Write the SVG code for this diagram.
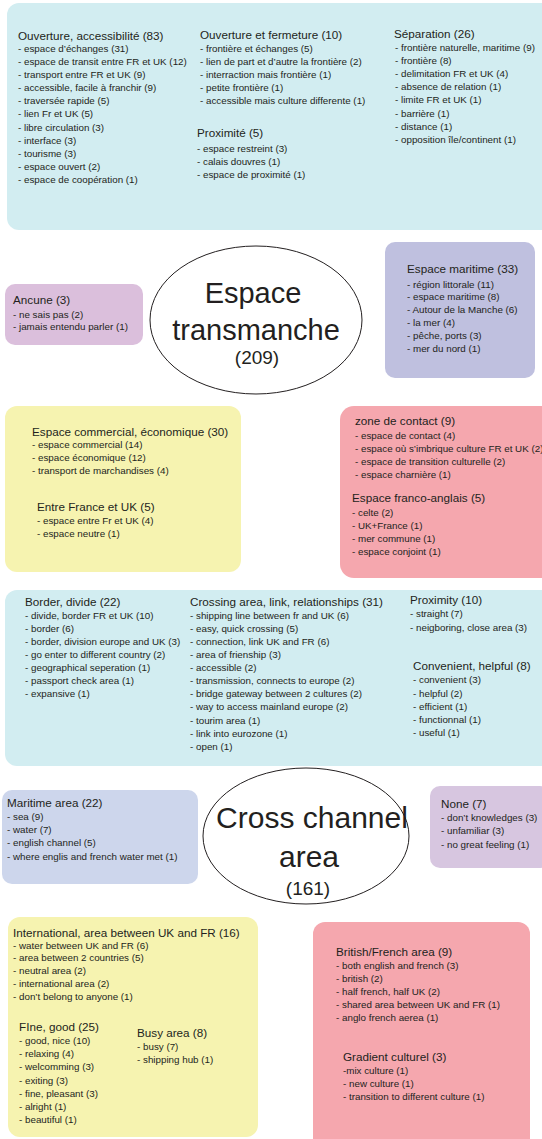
<svg xmlns="http://www.w3.org/2000/svg" width="542" height="1139" viewBox="0 0 542 1139">
<style>
text{font-family:"Liberation Sans",Arial,sans-serif;fill:#231f20}
.h{font-size:11.7px}
.i{font-size:9.8px}
.big{font-size:29px;text-anchor:middle}
.cnt{font-size:19px;text-anchor:middle}
.cyan{fill:#d2edf1}
.yel{fill:#f6f3b0}
.pink{fill:#f5a7ae}
.ell{fill:#ffffff;stroke:#231f20;stroke-width:1}
</style>
<rect width="542" height="1139" fill="#ffffff"/>

<g id="top-box">
<rect class="cyan" x="7" y="3" width="550" height="227" rx="12"/>
<text class="h" x="18" y="40">Ouverture, accessibilité  (83)</text>
<text class="i"><tspan x="18" y="52">- espace d’échanges (31)</tspan><tspan x="18" y="65">- espace de transit entre FR et UK (12)</tspan><tspan x="18" y="78">- transport entre FR et UK (9)</tspan><tspan x="18" y="91">- accessible, facile à franchir (9)</tspan><tspan x="18" y="104">- traversée rapide (5)</tspan><tspan x="18" y="117">- lien Fr et UK (5)</tspan><tspan x="18" y="131">- libre circulation (3)</tspan><tspan x="18" y="144">- interface (3)</tspan><tspan x="18" y="157">- tourisme (3)</tspan><tspan x="18" y="170">- espace ouvert (2)</tspan><tspan x="18" y="183">- espace de coopération (1)</tspan></text>
<text class="h" x="200" y="39">Ouverture et fermeture (10)</text>
<text class="i"><tspan x="200" y="52">- frontière et échanges (5)</tspan><tspan x="200" y="65">- lien de part  et d’autre la frontière (2)</tspan><tspan x="200" y="78">- interraction mais frontière (1)</tspan><tspan x="200" y="91">- petite frontière (1)</tspan><tspan x="200" y="104">- accessible mais culture differente (1)</tspan></text>
<text class="h" x="197" y="137">Proximité (5)</text>
<text class="i"><tspan x="197" y="152">- espace restreint (3)</tspan><tspan x="197" y="165">- calais douvres (1)</tspan><tspan x="197" y="178">- espace de proximité (1)</tspan></text>
<text class="h" x="394" y="38">Séparation (26)</text>
<text class="i"><tspan x="395" y="51">- frontière naturelle, maritime (9)</tspan><tspan x="395" y="64">- frontière (8)</tspan><tspan x="395" y="77">- delimitation FR et UK (4)</tspan><tspan x="395" y="90">- absence de relation (1)</tspan><tspan x="395" y="103">- limite FR et UK (1)</tspan><tspan x="395" y="117">- barrière (1)</tspan><tspan x="395" y="130">- distance (1)</tspan><tspan x="395" y="143">- opposition île/continent (1)</tspan></text>
</g>

<g id="ancune">
<rect x="5" y="284" width="138" height="61" rx="10" fill="#dbbfdc"/>
<text class="h" x="13" y="304">Ancune (3)</text>
<text class="i"><tspan x="13" y="318">- ne sais pas (2)</tspan><tspan x="13" y="330">- jamais entendu parler (1)</tspan></text>
</g>

<g id="espace-transmanche">
<ellipse class="ell" cx="256" cy="320" rx="106" ry="74"/>
<text class="big" x="253" y="303">Espace</text>
<text class="big" x="256" y="340">transmanche</text>
<text class="cnt" x="257" y="364">(209)</text>
</g>

<g id="espace-maritime">
<rect x="385" y="242" width="150" height="136" rx="10" fill="#bfc0df"/>
<text class="h" x="407" y="273">Espace maritime (33)</text>
<text class="i"><tspan x="407" y="288">- région littorale (11)</tspan><tspan x="407" y="300">- espace maritime (8)</tspan><tspan x="407" y="313">- Autour de la Manche (6)</tspan><tspan x="407" y="326">- la mer (4)</tspan><tspan x="407" y="339">- pêche, ports (3)</tspan><tspan x="407" y="352">- mer du nord (1)</tspan></text>
</g>

<g id="espace-commercial">
<rect class="yel" x="5" y="406" width="236" height="166" rx="12"/>
<text class="h" x="32" y="436">Espace commercial, économique (30)</text>
<text class="i"><tspan x="32" y="448">- espace commercial (14)</tspan><tspan x="32" y="461">- espace économique (12)</tspan><tspan x="32" y="474">- transport de marchandises (4)</tspan></text>
<text class="h" x="37" y="511">Entre France et UK (5)</text>
<text class="i"><tspan x="37" y="524">- espace entre Fr et UK (4)</tspan><tspan x="37" y="537">- espace neutre (1)</tspan></text>
</g>

<g id="zone-contact">
<rect class="pink" x="340" y="406" width="215" height="172" rx="14"/>
<text class="h" x="355" y="425">zone de contact (9)</text>
<text class="i"><tspan x="355" y="439">- espace de contact (4)</tspan><tspan x="355" y="452">- espace où s’imbrique culture FR et UK (2)</tspan><tspan x="355" y="465">- espace de transition culturelle (2)</tspan><tspan x="355" y="478">- espace charnière (1)</tspan></text>
<text class="h" x="352" y="502">Espace franco-anglais (5)</text>
<text class="i"><tspan x="352" y="516">- celte (2)</tspan><tspan x="352" y="529">- UK+France (1)</tspan><tspan x="352" y="542">- mer commune (1)</tspan><tspan x="352" y="555">- espace conjoint (1)</tspan></text>
</g>

<g id="cross-box">
<rect class="cyan" x="5" y="590" width="550" height="176" rx="12"/>
<text class="h" x="25" y="606">Border, divide (22)</text>
<text class="i"><tspan x="25" y="619">- divide, border FR et UK (10)</tspan><tspan x="25" y="632">- border (6)</tspan><tspan x="25" y="645">- border, division europe and UK (3)</tspan><tspan x="25" y="658">- go enter to different country (2)</tspan><tspan x="25" y="671">- geographical seperation (1)</tspan><tspan x="25" y="684">- passport check area (1)</tspan><tspan x="25" y="697">- expansive (1)</tspan></text>
<text class="h" x="190" y="606">Crossing area, link, relationships (31)</text>
<text class="i"><tspan x="190" y="619">- shipping line between fr and UK (6)</tspan><tspan x="190" y="632">- easy, quick crossing (5)</tspan><tspan x="190" y="645">- connection, link  UK and FR (6)</tspan><tspan x="190" y="658">- area of frienship (3)</tspan><tspan x="190" y="671">- accessible (2)</tspan><tspan x="190" y="684">- transmission, connects to europe (2)</tspan><tspan x="190" y="697">- bridge gateway between 2 cultures (2)</tspan><tspan x="190" y="710">- way to access mainland europe (2)</tspan><tspan x="190" y="724">- tourim area (1)</tspan><tspan x="190" y="737">- link into eurozone (1)</tspan><tspan x="190" y="750">- open (1)</tspan></text>
<text class="h" x="410" y="604">Proximity (10)</text>
<text class="i"><tspan x="410" y="617">- straight (7)</tspan><tspan x="410" y="631">- neigboring, close area (3)</tspan></text>
<text class="h" x="413" y="670">Convenient, helpful (8)</text>
<text class="i"><tspan x="413" y="683">- convenient (3)</tspan><tspan x="413" y="697">- helpful (2)</tspan><tspan x="413" y="710">- efficient (1)</tspan><tspan x="413" y="723">- functionnal (1)</tspan><tspan x="413" y="736">- useful (1)</tspan></text>
</g>

<g id="maritime-area">
<rect x="2" y="790" width="196" height="94" rx="10" fill="#cdd6ec"/>
<text class="h" x="7" y="807">Maritime area (22)</text>
<text class="i"><tspan x="7" y="820">- sea (9)</tspan><tspan x="7" y="833">- water (7)</tspan><tspan x="7" y="846">- english channel (5)</tspan><tspan x="7" y="860">- where englis and french water met (1)</tspan></text>
</g>

<g id="cross-channel">
<ellipse class="ell" cx="306" cy="836" rx="103" ry="68"/>
<text class="big" x="312" y="828" style="font-size:30px">Cross channel</text>
<text class="big" x="309" y="867" style="font-size:30px">area</text>
<text class="cnt" x="308" y="895">(161)</text>
</g>

<g id="none">
<rect x="430" y="786" width="120" height="82" rx="10" fill="#d7c6e0"/>
<text class="h" x="441" y="808">None (7)</text>
<text class="i"><tspan x="441" y="821">- don’t knowledges (3)</tspan><tspan x="441" y="834">- unfamiliar (3)</tspan><tspan x="441" y="848">- no great feeling (1)</tspan></text>
</g>

<g id="international">
<rect class="yel" x="8" y="917" width="250" height="220" rx="12"/>
<text class="h" x="13" y="937">International, area between UK and FR (16)</text>
<text class="i"><tspan x="13" y="949">- water between UK and FR (6)</tspan><tspan x="13" y="961">- area between 2 countries (5)</tspan><tspan x="13" y="974">- neutral area (2)</tspan><tspan x="13" y="987">- international area (2)</tspan><tspan x="13" y="1000">- don’t belong to anyone (1)</tspan></text>
<text class="h" x="19" y="1031">FIne, good (25)</text>
<text class="i"><tspan x="19" y="1044">- good, nice (10)</tspan><tspan x="19" y="1057">- relaxing (4)</tspan><tspan x="19" y="1070">- welcomming (3)</tspan><tspan x="19" y="1084">- exiting (3)</tspan><tspan x="19" y="1097">- fine, pleasant (3)</tspan><tspan x="19" y="1110">- alright (1)</tspan><tspan x="19" y="1123">- beautiful (1)</tspan></text>
<text class="h" x="137" y="1037">Busy area (8)</text>
<text class="i"><tspan x="137" y="1050">- busy (7)</tspan><tspan x="137" y="1063">- shipping hub (1)</tspan></text>
</g>

<g id="british-french">
<rect class="pink" x="313" y="922" width="217" height="230" rx="12"/>
<text class="h" x="336" y="956">British/French area (9)</text>
<text class="i"><tspan x="336" y="969">- both english and french (3)</tspan><tspan x="336" y="982">- british (2)</tspan><tspan x="336" y="995">- half french, half UK (2)</tspan><tspan x="336" y="1008">- shared area between UK and FR (1)</tspan><tspan x="336" y="1021">- anglo french aerea (1)</tspan></text>
<text class="h" x="343" y="1061">Gradient culturel (3)</text>
<text class="i"><tspan x="343" y="1074">-mix culture (1)</tspan><tspan x="343" y="1087">- new culture (1)</tspan><tspan x="343" y="1100">- transition to different culture (1)</tspan></text>
</g>

<g id="connectors"></g>
</svg>
